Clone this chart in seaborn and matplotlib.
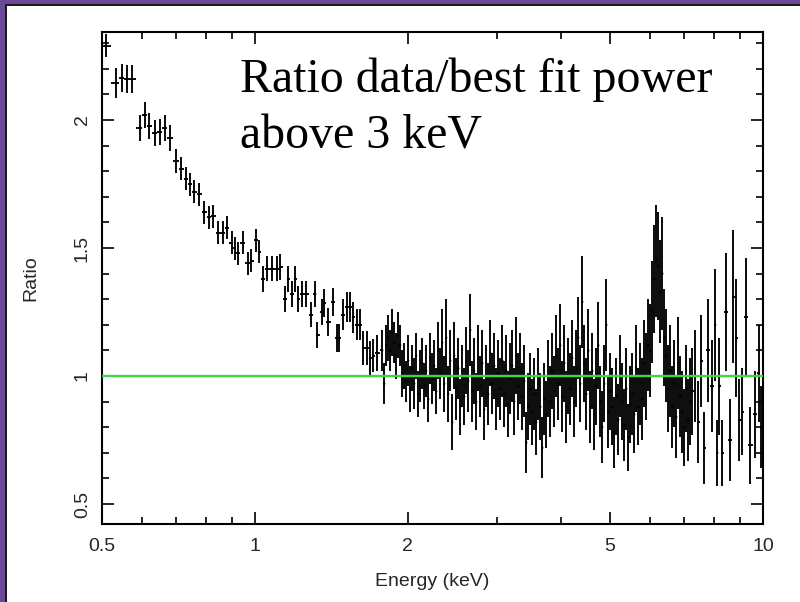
import numpy as np
import matplotlib
matplotlib.use("Agg")
import matplotlib.pyplot as plt
import matplotlib.patches as mpatches
import seaborn as sns
from matplotlib.ticker import FixedLocator, FixedFormatter, NullFormatter

# ---------------- data ----------------
energy_low = [0.509, 0.533, 0.547, 0.560, 0.573, 0.594, 0.607, 0.618, 0.636, 0.650,
              0.665, 0.680, 0.700, 0.716, 0.732, 0.745, 0.759, 0.776, 0.794, 0.812,
              0.827, 0.846, 0.865, 0.881, 0.901, 0.913, 0.926, 0.947, 0.969, 0.983,
              1.005, 1.019, 1.038, 1.057, 1.081, 1.106, 1.121, 1.146, 1.162, 1.183,
              1.199, 1.216, 1.238, 1.261, 1.290, 1.314, 1.326, 1.356, 1.368, 1.393,
              1.425, 1.452, 1.465, 1.492, 1.519, 1.540, 1.560, 1.589, 1.610, 1.632,
              1.662, 1.685, 1.709, 1.740]
ratio_low = [2.29, 2.145, 2.164, 2.16, 2.16, 1.97, 2.02, 1.977, 1.95, 1.953,
             1.97, 1.93, 1.84, 1.81, 1.77, 1.75, 1.72, 1.71, 1.64, 1.62,
             1.625, 1.56, 1.56, 1.58, 1.52, 1.50, 1.48, 1.52, 1.44, 1.45,
             1.53, 1.485, 1.38, 1.42, 1.42, 1.42, 1.425, 1.30, 1.38, 1.32,
             1.38, 1.30, 1.32, 1.32, 1.24, 1.32, 1.16, 1.25, 1.285, 1.21,
             1.29, 1.15, 1.15, 1.24, 1.27, 1.27, 1.23, 1.20, 1.20, 1.11,
             1.11, 1.07, 1.08, 1.09]
err_low = [0.045, 0.06, 0.055, 0.055, 0.055, 0.05, 0.05, 0.05, 0.05, 0.05,
           0.05, 0.05, 0.045, 0.045, 0.045, 0.045, 0.045, 0.045, 0.045, 0.045,
           0.045, 0.045, 0.045, 0.045, 0.045, 0.045, 0.045, 0.045, 0.045, 0.045,
           0.045, 0.045, 0.05, 0.05, 0.05, 0.05, 0.05, 0.05, 0.05, 0.05,
           0.05, 0.05, 0.05, 0.05, 0.05, 0.05, 0.05, 0.05, 0.055, 0.055,
           0.055, 0.055, 0.055, 0.06, 0.06, 0.06, 0.06, 0.06, 0.06, 0.065,
           0.065, 0.065, 0.065, 0.07]

energy_mid = [1.780, 1.796, 1.813, 1.829, 1.846,
              1.862, 1.879, 1.896, 1.913, 1.931,
              1.949, 1.967, 1.985, 2.003, 2.021,
              2.039, 2.058, 2.076, 2.095, 2.114,
              2.134, 2.153, 2.173, 2.193, 2.213,
              2.233, 2.253, 2.274, 2.295, 2.315,
              2.336, 2.358, 2.379, 2.401, 2.423,
              2.445, 2.467, 2.490, 2.513, 2.535,
              2.558, 2.582, 2.605, 2.629, 2.653,
              2.677, 2.701, 2.726, 2.751, 2.776,
              2.801, 2.827, 2.852, 2.878, 2.905,
              2.931, 2.958, 2.985, 3.012, 3.039,
              3.067, 3.095, 3.123, 3.152, 3.180,
              3.209, 3.238, 3.268, 3.298, 3.328,
              3.358, 3.389, 3.420, 3.451, 3.482,
              3.514, 3.546, 3.578, 3.611, 3.644,
              3.677, 3.710, 3.744, 3.778, 3.813,
              3.847, 3.882, 3.918, 3.953, 3.989,
              4.026, 4.063, 4.100, 4.137, 4.175,
              4.212, 4.251, 4.290, 4.329, 4.368,
              4.408, 4.448, 4.489, 4.530, 4.571,
              4.612, 4.654, 4.697, 4.740, 4.783,
              4.826, 4.870, 4.915, 4.959, 5.005,
              5.050, 5.096, 5.143, 5.190, 5.237,
              5.284, 5.333, 5.381, 5.430, 5.480,
              5.529, 5.580, 5.630, 5.682, 5.734,
              5.786, 5.839, 5.892, 5.946, 6.000,
              6.054, 6.110, 6.165, 6.221, 6.278,
              6.335, 6.393, 6.451, 6.510, 6.569,
              6.629, 6.689, 6.750, 6.812, 6.874,
              6.936, 6.999, 7.063, 7.128, 7.193]
ratio_mid = [1.10, 0.97, 1.12, 1.15, 1.10,
             1.17, 1.13, 1.08, 1.16, 1.12,
             1.01, 1.04, 0.98, 1.06, 0.95,
             1.03, 0.97, 1.08, 0.93, 1.00,
             1.05, 0.96, 1.02, 0.91, 1.07,
             0.99, 1.04, 0.94, 1.10, 1.01,
             1.13, 0.97, 1.15, 0.93, 1.06,
             0.82, 1.08, 0.95, 1.03, 0.88,
             1.00, 0.92, 1.06, 0.98, 1.18,
             0.94, 1.02, 0.90, 1.07, 0.96,
             1.05, 0.87, 1.00, 0.93, 1.09,
             0.97, 1.04, 0.91, 1.01, 0.95,
             1.06, 0.93, 1.02, 0.89, 0.99,
             1.04, 0.90, 1.08, 0.96, 1.03,
             0.92, 0.98, 0.74, 0.88, 0.95,
             0.86, 0.93, 0.82, 0.97, 0.88,
             0.72, 0.91, 0.85, 0.99, 0.90,
             1.02, 0.94, 1.08, 0.97, 1.12,
             0.92, 1.05, 0.88, 1.00, 0.95,
             1.07, 0.90, 1.03, 1.15, 0.97,
             1.29, 1.05, 0.93, 1.10, 0.88,
             1.02, 0.85, 0.96, 1.12, 0.90,
             0.80, 0.97, 1.20, 0.86, 0.94,
             0.88, 0.78, 0.92, 0.83, 1.00,
             0.90, 0.81, 0.95, 0.76, 0.89,
             0.93, 0.85, 1.03, 0.88, 0.97,
             0.91, 1.05, 1.00, 1.12, 1.10,
             1.25, 1.38, 1.45, 1.43, 1.33,
             1.40, 1.15, 1.08, 0.95, 1.02,
             0.88, 0.97, 0.84, 1.05, 0.92,
             0.86, 0.80, 0.95, 0.83, 0.90]
err_mid = [0.08, 0.08, 0.08, 0.09, 0.08,
           0.09, 0.08, 0.09, 0.09, 0.08,
           0.09, 0.09, 0.08, 0.10, 0.09,
           0.09, 0.10, 0.09, 0.09, 0.10,
           0.10, 0.09, 0.10, 0.09, 0.10,
           0.10, 0.10, 0.09, 0.11, 0.10,
           0.13, 0.11, 0.15, 0.11, 0.12,
           0.11, 0.13, 0.12, 0.12, 0.11,
           0.12, 0.11, 0.13, 0.12, 0.14,
           0.12, 0.13, 0.11, 0.13, 0.12,
           0.13, 0.12, 0.12, 0.12, 0.13,
           0.12, 0.13, 0.12, 0.13, 0.12,
           0.14, 0.13, 0.14, 0.13, 0.14,
           0.14, 0.13, 0.15, 0.13, 0.14,
           0.13, 0.14, 0.12, 0.13, 0.14,
           0.13, 0.14, 0.13, 0.14, 0.13,
           0.12, 0.14, 0.13, 0.15, 0.14,
           0.15, 0.14, 0.16, 0.14, 0.16,
           0.14, 0.15, 0.14, 0.15, 0.14,
           0.15, 0.14, 0.15, 0.16, 0.15,
           0.18, 0.15, 0.14, 0.16, 0.14,
           0.15, 0.14, 0.15, 0.17, 0.14,
           0.14, 0.15, 0.18, 0.14, 0.15,
           0.15, 0.14, 0.15, 0.14, 0.16,
           0.15, 0.14, 0.16, 0.13, 0.15,
           0.16, 0.15, 0.17, 0.15, 0.16,
           0.16, 0.17, 0.17, 0.18, 0.18,
           0.20, 0.21, 0.22, 0.21, 0.20,
           0.22, 0.19, 0.18, 0.17, 0.18,
           0.16, 0.17, 0.16, 0.18, 0.16,
           0.16, 0.15, 0.17, 0.16, 0.17]

energy_high = [7.26, 7.36, 7.46, 7.56, 7.67, 7.80, 7.95, 8.05, 8.13, 8.20, 8.32,
               8.47, 8.62, 8.74, 8.86, 8.98, 9.10, 9.27, 9.44, 9.66, 9.80, 9.92]
ratio_high = [0.94, 1.00, 0.82, 1.06, 0.72, 1.10, 0.96, 1.20, 0.70, 0.96, 0.70,
              1.25, 0.75, 1.31, 1.15, 0.83, 0.86, 1.23, 0.73, 0.85, 1.01, 0.80]
err_high = [0.17, 0.18, 0.16, 0.18, 0.14, 0.20, 0.18, 0.22, 0.13, 0.19, 0.13,
            0.23, 0.16, 0.26, 0.23, 0.16, 0.17, 0.23, 0.15, 0.17, 0.19, 0.16]

model_ratio = 1.0
x_major = [0.5, 1, 2, 5, 10]
x_major_labels = ["0.5", "1", "2", "5", "10"]
x_minor = [0.6, 0.7, 0.8, 0.9, 3, 4, 6, 7, 8, 9]
y_major = [0.5, 1, 1.5, 2]
y_major_labels = ["0.5", "1", "1.5", "2"]
y_minor = [0.6, 0.7, 0.8, 0.9, 1.1, 1.2, 1.3, 1.4, 1.6, 1.7, 1.8, 1.9, 2.1, 2.2, 2.3]
x_label = "Energy (keV)"
y_label = "Ratio"
note_line1 = "Ratio data/best fit power"
note_line2 = "above 3 keV"

# ---------------- assemble ----------------
energy = np.array(energy_low + energy_mid + energy_high)
ratio = np.array(ratio_low + ratio_mid + ratio_high)
yerr = np.array(err_low + err_mid + err_high)

mids = np.sqrt(energy[:-1] * energy[1:])
left = np.concatenate([[energy[0] ** 2 / mids[0]], mids])
right = np.concatenate([mids, [energy[-1] ** 2 / mids[-1]]])
xerr = np.vstack([energy - left, right - energy])

sns.set_theme(style="ticks")
plt.rcParams["font.family"] = ["Liberation Sans", "DejaVu Sans"]

W, H = 800, 602
fig = plt.figure(figsize=(W / 100, H / 100), dpi=100)
fig.patch.set_facecolor("white")

# purple frame (left and top)
purple = "#6a4a98"
fig.patches.append(mpatches.Rectangle((0, 0), 5 / W, 1, transform=fig.transFigure,
                                      facecolor=purple, edgecolor="none", zorder=0))
fig.patches.append(mpatches.Rectangle((0, 1 - 4 / H), 1, 4 / H, transform=fig.transFigure,
                                      facecolor=purple, edgecolor="none", zorder=0))
fig.patches.append(mpatches.Rectangle((5 / W, 0), 1.5 / W, 1 - 4 / H, transform=fig.transFigure,
                                      facecolor="#1a1a1a", edgecolor="none", zorder=0))
fig.patches.append(mpatches.Rectangle((5 / W, 1 - 5.5 / H), 1 - 5 / W, 1.5 / H,
                                      transform=fig.transFigure,
                                      facecolor="#1a1a1a", edgecolor="none", zorder=0))

ax = fig.add_axes([102 / W, 1 - 524 / H, 661 / W, 492 / H])
ax.set_facecolor("white")

ax.errorbar(energy, ratio, xerr=xerr, yerr=yerr, fmt="none", ecolor="black",
            elinewidth=1.35, capsize=0, zorder=3)
sns.scatterplot(x=energy, y=ratio, ax=ax, s=3, color="black", edgecolor="none",
                legend=False, zorder=4)
ax.axhline(model_ratio, color="#3fd63f", lw=1.7, zorder=5)

ax.set_xscale("log")
ax.set_xlim(0.5, 10)
ax.set_ylim(0.422, 2.344)

ax.xaxis.set_major_locator(FixedLocator(x_major))
ax.xaxis.set_major_formatter(FixedFormatter(x_major_labels))
ax.xaxis.set_minor_locator(FixedLocator(x_minor))
ax.xaxis.set_minor_formatter(NullFormatter())
ax.yaxis.set_major_locator(FixedLocator(y_major))
ax.yaxis.set_major_formatter(FixedFormatter(y_major_labels))
ax.yaxis.set_minor_locator(FixedLocator(y_minor))

for s in ax.spines.values():
    s.set_visible(True)
    s.set_linewidth(1.5)
    s.set_color("black")

ax.tick_params(which="both", direction="in", top=True, right=True,
               color="black", width=1.2)
ax.tick_params(which="major", length=8.5, labelsize=14, pad=10)
ax.tick_params(axis="y", which="major", pad=8)
ax.tick_params(which="minor", length=5)
for lab in ax.get_yticklabels():
    lab.set_rotation(90)
    lab.set_va("center")

ax.set_xlabel(x_label, fontsize=14)
ax.set_ylabel(y_label, fontsize=14)
ax.xaxis.set_label_coords(0.5, -0.100)
ax.yaxis.set_label_coords(-0.095, 0.5)

fig.text(240 / W, 1 - 92 / H, note_line1, family=["Liberation Serif", "DejaVu Serif"],
         fontsize=34.5, va="baseline", ha="left", color="black")
fig.text(240 / W, 1 - 148 / H, note_line2, family=["Liberation Serif", "DejaVu Serif"],
         fontsize=34.5, va="baseline", ha="left", color="black")

fig.savefig("out.png", dpi=100)
